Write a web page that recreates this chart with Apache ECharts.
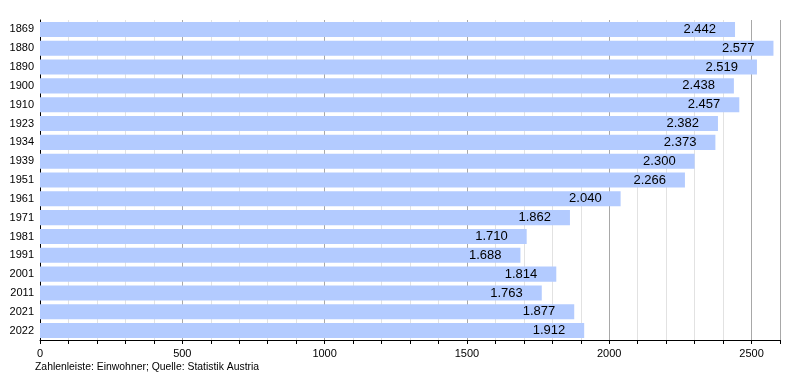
<!DOCTYPE html>
<html>
<head>
<meta charset="utf-8">
<script src="https://cdn.jsdelivr.net/npm/echarts@6/dist/echarts.min.js"></script>
<style>html,body{margin:0;padding:0;background:#fff}#c{width:800px;height:380px}</style>
</head>
<body>
<div id="c"></div>
<script>
const years = ['1869','1880','1890','1900','1910','1923','1934','1939','1951','1961','1971','1981','1991','2001','2011','2021','2022'];
const population = [2442,2577,2519,2438,2457,2382,2373,2300,2266,2040,1862,1710,1688,1814,1763,1877,1912];
const footnote = 'Zahlenleiste: Einwohner; Quelle: Statistik Austria';

const fmt = v => String(v).replace(/\B(?=(\d{3})+(?!\d))/g, '.');
const chart = echarts.init(document.getElementById('c'), null, {renderer:'canvas'});
chart.setOption({
  animation:false,
  textStyle:{fontFamily:'Liberation Sans, Arial, sans-serif'},
  grid:{left:40,right:20,top:20,bottom:40,containLabel:false},
  xAxis:{
    type:'value', min:0, max:2600, interval:500,
    axisLine:{show:true,lineStyle:{color:'#000',width:1}},
    axisTick:{show:true,length:4,lineStyle:{color:'#000'}},
    minorTick:{show:true,splitNumber:5,length:4,lineStyle:{color:'#000'}},
    splitLine:{show:true,lineStyle:{color:'#a8a8a8',width:1}},
    minorSplitLine:{show:true,lineStyle:{color:'#e2e2e2',width:1}},
    axisLabel:{color:'#000',fontSize:11,margin:8,
      formatter:v=> (v%500===0 ? String(v) : '')}
  },
  yAxis:{
    type:'category', data:years, inverse:true,
    axisLine:{show:true,lineStyle:{color:'#000',width:1}},
    axisTick:{show:false},
    splitLine:{show:false},
    axisLabel:{color:'#000',fontSize:11,margin:6}
  },
  series:[{
    type:'bar', data:population, barCategoryGap:'20%',
    itemStyle:{color:'#b3cbff'},
    label:{show:true,position:'insideRight',distance:19,color:'#000',fontSize:13,
      formatter:p=>fmt(p.value)}
  }],
  graphic:[{type:'text',left:35,top:362,style:{text:footnote,fontSize:10.4,fill:'#000',fontFamily:'Liberation Sans, Arial, sans-serif'}}]
});
</script>
</body>
</html>
